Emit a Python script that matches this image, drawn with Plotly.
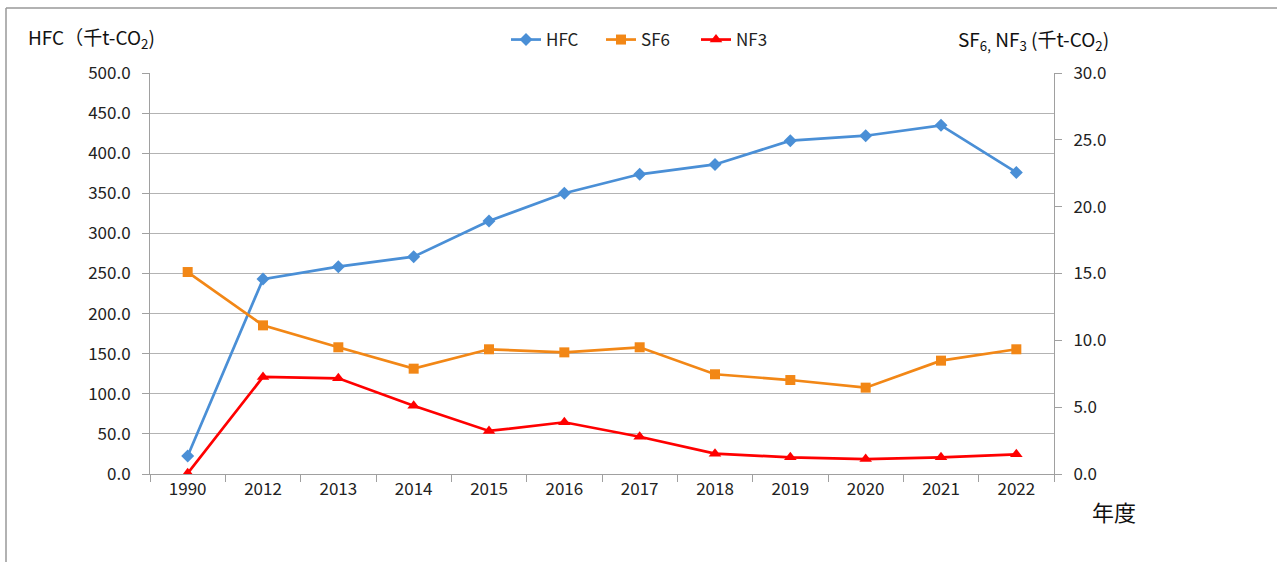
import plotly.graph_objects as go

years = ["1990", "2012", "2013", "2014", "2015", "2016", "2017", "2018", "2019", "2020", "2021", "2022"]
hfc = [22.4, 243.0, 258.5, 271.0, 315.5, 350.0, 373.7, 386.0, 415.6, 421.8, 434.8, 376.0]
sf6 = [15.11, 11.12, 9.48, 7.88, 9.33, 9.10, 9.48, 7.46, 7.03, 6.46, 8.48, 9.33]
nf3 = [0.05, 7.26, 7.16, 5.11, 3.22, 3.87, 2.79, 1.52, 1.25, 1.12, 1.25, 1.47]

left_ticks = [0, 50, 100, 150, 200, 250, 300, 350, 400, 450, 500]
right_ticks = [0, 5, 10, 15, 20, 25, 30]

FONT = "Noto Sans CJK JP"
GRID = "#b3b3b3"
AXIS = "#a0a0a0"

fig = go.Figure()
fig.add_trace(go.Scatter(x=years, y=hfc, name="HFC", mode="lines+markers",
                         line=dict(color="#4a8fd6", width=2.7),
                         marker=dict(symbol="diamond", size=10, color="#4a8fd6")))
fig.add_trace(go.Scatter(x=years, y=sf6, name="SF6", mode="lines+markers", yaxis="y2",
                         line=dict(color="#f28716", width=2.7),
                         marker=dict(symbol="square", size=10, color="#f28716")))
fig.add_trace(go.Scatter(x=years, y=nf3, name="NF3", mode="lines+markers", yaxis="y2",
                         line=dict(color="#ff0000", width=2.7),
                         marker=dict(symbol="triangle-up", size=11, color="#ff0000")))

W, H = 1277, 562
L, R, T, B = 150, 1054, 73, 474

def px_x(p):
    return (p - L) / (R - L)

def px_y(p):
    return (B - p) / (B - T)

fig.update_layout(
    width=W, height=H,
    margin=dict(l=L, r=W - R, t=T, b=H - B),
    paper_bgcolor="white", plot_bgcolor="white",
    font=dict(family=FONT, size=17, color="#222222"),
    showlegend=True,
    legend=dict(orientation="h", x=px_x(506), y=px_y(40), xanchor="left", yanchor="middle",
                font=dict(size=17, color="#222222"), bgcolor="rgba(0,0,0,0)",
                tracegroupgap=0, entrywidth=50, entrywidthmode="pixels"),
    xaxis=dict(type="category", categoryorder="array", categoryarray=years,
               showline=True, linecolor=AXIS, linewidth=1,
               ticks="outside", tickson="boundaries", ticklen=7, tickcolor=AXIS,
               showgrid=False, tickfont=dict(size=17), range=[-0.5, 11.5]),
    yaxis=dict(range=[0, 500], tickvals=left_ticks, ticktext=[f"{v:.1f}" for v in left_ticks],
               showline=True, linecolor=AXIS, linewidth=1, ticks="outside", ticklen=7,
               tickcolor=AXIS, gridcolor=GRID, gridwidth=1, zeroline=False,
               tickfont=dict(size=17), ticklabelstandoff=8),
    yaxis2=dict(range=[0, 30], tickvals=right_ticks, ticktext=[f"{v:.1f}" for v in right_ticks],
                overlaying="y", side="right", showline=True, linecolor=AXIS, linewidth=1,
                ticks="outside", ticklen=7, tickcolor=AXIS, showgrid=False, zeroline=False,
                tickfont=dict(size=17), ticklabelstandoff=8),
    shapes=[
        dict(type="line", xref="paper", yref="paper", x0=px_x(6), x1=px_x(W + 5),
             y0=px_y(8), y1=px_y(8), line=dict(color="#999999", width=1.5)),
        dict(type="line", xref="paper", yref="paper", x0=px_x(6), x1=px_x(6),
             y0=px_y(8), y1=px_y(H + 5), line=dict(color="#999999", width=1.5)),
    ],
    annotations=[
        dict(text="HFC（千t-CO<sub>2</sub>)", xref="paper", yref="paper",
             x=px_x(26), y=px_y(38), xanchor="left", yanchor="middle", showarrow=False,
             font=dict(size=19, color="#111111")),
        dict(text="SF<sub>6,</sub> NF<sub>3</sub> (千t-CO<sub>2</sub>)", xref="paper", yref="paper",
             x=px_x(956), y=px_y(40), xanchor="left", yanchor="middle", showarrow=False,
             font=dict(size=19, color="#111111")),
        dict(text="年度", xref="paper", yref="paper",
             x=px_x(1090), y=px_y(511), xanchor="left", yanchor="middle", showarrow=False,
             font=dict(size=22, color="#111111")),
    ],
)

fig.write_html("out.html", config={"displayModeBar": False},
               post_script="document.body.style.margin='0';document.body.style.padding='0';")
